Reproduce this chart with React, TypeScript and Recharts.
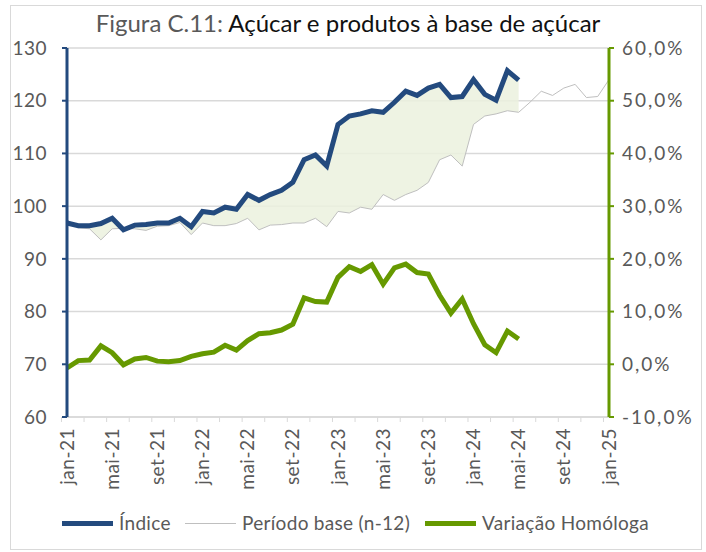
import { ComposedChart, Line, Area, XAxis, YAxis, CartesianGrid } from "recharts";

const months = [
  "jan-21", "fev-21", "mar-21", "abr-21", "mai-21", "jun-21", "jul-21", "ago-21", "set-21", "out-21", "nov-21", "dez-21",
  "jan-22", "fev-22", "mar-22", "abr-22", "mai-22", "jun-22", "jul-22", "ago-22", "set-22", "out-22", "nov-22", "dez-22",
  "jan-23", "fev-23", "mar-23", "abr-23", "mai-23", "jun-23", "jul-23", "ago-23", "set-23", "out-23", "nov-23", "dez-23",
  "jan-24", "fev-24", "mar-24", "abr-24", "mai-24", "jun-24", "jul-24", "ago-24", "set-24", "out-24", "nov-24", "dez-24",
  "jan-25",
];

// Índice (jan-21 .. mai-24)
const indice = [
  96.8, 96.3, 96.3, 96.7, 97.7, 95.5, 96.4, 96.5, 96.8, 96.8, 97.7, 96.1,
  99.0, 98.7, 99.8, 99.4, 102.2, 101.1, 102.2, 103.0, 104.5, 108.8, 109.7, 107.6,
  115.5, 117.1, 117.5, 118.1, 117.8, 119.7, 121.8, 121.0, 122.4, 123.1, 120.6, 120.8,
  124.0, 121.2, 120.1, 125.7, 123.9,
];

// Período base (n-12), jan-21 .. jan-25
const periodoBase = [
  97.4, 95.9, 95.7, 93.6, 95.7, 95.8, 95.7, 95.4, 96.2, 96.3, 96.9, 94.6,
  96.8, 96.3, 96.3, 96.7, 97.7, 95.5, 96.4, 96.5, 96.8, 96.8, 97.7, 96.1,
  99.0, 98.7, 99.8, 99.4, 102.2, 101.1, 102.2, 103.0, 104.5, 108.8, 109.7, 107.6,
  115.5, 117.1, 117.5, 118.1, 117.8, 119.7, 121.8, 121.0, 122.4, 123.1, 120.6, 120.8,
  124.0,
];

// Variação homóloga (%), jan-21 .. mai-24
const variacao = [
  -0.7, 0.7, 0.8, 3.5, 2.2, -0.1, 1.0, 1.3, 0.6, 0.5, 0.7, 1.5,
  2.0, 2.3, 3.6, 2.7, 4.5, 5.8, 6.0, 6.5, 7.6, 12.6, 11.9, 11.8,
  16.5, 18.5, 17.6, 18.9, 15.2, 18.3, 19.0, 17.4, 17.1, 13.1, 9.7, 12.4,
  7.7, 3.7, 2.2, 6.3, 4.8,
];

const leftTicks = [60, 70, 80, 90, 100, 110, 120, 130];
const rightTicks = [-10, 0, 10, 20, 30, 40, 50, 60];

const BLUE = "#234A7E";
const GREEN = "#669900";
const GREY_LINE = "#BFBFBF";
const GRID = "#D9D9D9";
const TEXT = "#595959";
const BAND = 542 / months.length;

const data = months.map((month, i) => ({
  month,
  indice: i < indice.length ? indice[i] : null,
  base: periodoBase[i],
  variacao: i < variacao.length ? variacao[i] : null,
  range: i < indice.length ? [periodoBase[i], indice[i]] : null,
}));

const pct = (v: number) => `${v.toFixed(1).replace(".", ",")}%`;

const MonthTick = ({ x, y, payload }: any) => {
  const label = String(payload.value);
  const show = /^(jan|mai|set)/.test(label);
  return (
    <g transform={`translate(${x},${y})`}>
      <line x1={-BAND / 2} x2={-BAND / 2} y1={0} y2={5} stroke={GRID} />
      {show && (
        <text
          transform="rotate(-90)"
          x={-11}
          y={0}
          dy="0.35em"
          textAnchor="end"
          fill={TEXT}
          fontSize={19}
          letterSpacing={0.5}
        >
          {label}
        </text>
      )}
    </g>
  );
};

const LegendItem = ({ color, thick, label, left }: { color: string; thick: boolean; label: string; left: number }) => (
  <div style={{ position: "absolute", left, top: 511, display: "flex", alignItems: "center" }}>
    <span style={{ display: "inline-block", width: 51, height: thick ? 5 : 1, background: color, marginRight: 6 }} />
    <span style={{ fontSize: 19, color: TEXT, lineHeight: "24px", letterSpacing: 0.3 }}>{label}</span>
  </div>
);

export default function App() {
  return (
    <div
      style={{
        position: "absolute",
        left: 0,
        top: 0,
        width: 706,
        height: 552,
        background: "#fff",
        fontFamily: "Lato, 'Open Sans', sans-serif",
      }}
    >
      <div
        style={{
          position: "absolute",
          left: 10,
          top: 5,
          width: 690,
          height: 543,
          border: `1px solid ${GRID}`,
        }}
      />
      <div style={{ position: "absolute", left: 0, width: 696, top: 8, textAlign: "center", fontSize: 24, lineHeight: "30px" }}>
        <span style={{ color: TEXT }}>Figura C.11: </span>
        <span style={{ color: "#111" }}>Açúcar e produtos à base de açúcar</span>
      </div>
      <div style={{ position: "absolute", left: 0, top: 0 }}>
        <ComposedChart width={706} height={552} data={data} margin={{ top: 48, right: 8, bottom: 57, left: 8 }}>
          <CartesianGrid yAxisId="left" vertical={false} stroke={GRID} strokeWidth={1.5} />
          <XAxis
            dataKey="month"
            height={78}
            interval={1}
            tickLine={false}
            tickSize={0}
            tickMargin={0}
            axisLine={{ stroke: GRID, strokeWidth: 1.5 }}
            tick={<MonthTick />}
          />
          <YAxis
            yAxisId="left"
            width={59}
            domain={[60, 130]}
            ticks={leftTicks}
            interval={0}
            axisLine={{ stroke: BLUE, strokeWidth: 3 }}
            tickLine={{ stroke: BLUE, strokeWidth: 2 }}
            tickSize={5}
            tickMargin={15}
            tick={{ fill: TEXT, fontSize: 19, letterSpacing: 0.5 }}
          />
          <YAxis
            yAxisId="right"
            orientation="right"
            width={89}
            domain={[-10, 60]}
            ticks={rightTicks}
            interval={0}
            axisLine={{ stroke: GREEN, strokeWidth: 3 }}
            tickLine={{ stroke: GREEN, strokeWidth: 2 }}
            tickSize={5}
            tickMargin={8}
            tick={{ fill: TEXT, fontSize: 19, letterSpacing: 2 }}
            tickFormatter={pct}
          />
          <Area
            yAxisId="left"
            dataKey="range"
            stroke="none"
            fill="#EBF1DE"
            fillOpacity={0.85}
            isAnimationActive={false}
          />
          <Line
            yAxisId="left"
            dataKey="base"
            stroke={GREY_LINE}
            strokeWidth={1}
            dot={false}
            isAnimationActive={false}
          />
          <Line
            yAxisId="left"
            dataKey="indice"
            stroke={BLUE}
            strokeWidth={5}
            dot={false}
            isAnimationActive={false}
          />
          <Line
            yAxisId="right"
            dataKey="variacao"
            stroke={GREEN}
            strokeWidth={5}
            dot={false}
            isAnimationActive={false}
          />
        </ComposedChart>
      </div>
      <LegendItem color={BLUE} thick label="Índice" left={62} />
      <LegendItem color={GREY_LINE} thick={false} label="Período base (n-12)" left={185} />
      <LegendItem color={GREEN} thick label="Variação Homóloga" left={425} />
    </div>
  );
}
